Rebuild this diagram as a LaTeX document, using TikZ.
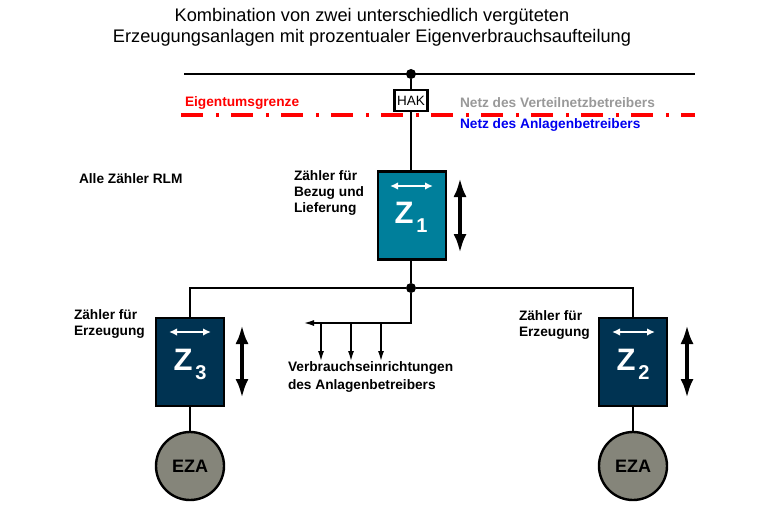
\documentclass[tikz,border=0pt]{standalone}
\usepackage{fontspec}
\setmainfont{Liberation Sans}
\usepackage{xcolor}
\usetikzlibrary{arrows.meta}
\definecolor{tl}{HTML}{007F9B}
\definecolor{nv}{HTML}{003352}
\definecolor{gr}{HTML}{85857A}
\definecolor{rd}{HTML}{FF0000}
\definecolor{bu}{HTML}{0000F0}
\definecolor{gy}{HTML}{999999}
\begin{document}
\begin{tikzpicture}[x=1pt,y=-1pt,
    every node/.style={inner sep=0pt,outer sep=0pt},
    wire/.style={line width=2pt},
    bus/.style={line width=2.6pt},
    meter/.style={draw,line width=2.4pt,minimum width=68pt,minimum height=88pt},
    eza/.style={draw,circle,line width=2.4pt,fill=gr,minimum size=68pt,font=\bfseries\fontsize{18}{20}\selectfont},
    dot/.style={circle,fill=black,minimum size=10pt},
    txt/.style={anchor=west,align=left,font=\bfseries\fontsize{13.7}{16}\selectfont},
    zsym/.style={text=white,font=\bfseries\fontsize{31}{31}\selectfont},
    zsub/.style={text=white,font=\bfseries\fontsize{20}{20}\selectfont},
    flow/.style={line width=4pt,{Latex[length=19pt,width=13pt]}-{Latex[length=19pt,width=13pt]}},
    dir/.style={white,line width=2pt,{Latex[length=8pt,width=7.5pt]}-{Latex[length=8pt,width=7.5pt]}},
    load/.style={wire,-{Latex[length=11pt,width=6pt]}}]
  \useasboundingbox (0,0) rectangle (768,511);
  % title
  \node[align=center,font=\fontsize{18.2}{21}\selectfont] (title) at (372,27) {Kombination von zwei unterschiedlich vergüteten\\Erzeugungsanlagen mit prozentualer Eigenverbrauchsaufteilung};
  % grid
  \coordinate (topl) at (184,74);
  \coordinate (topr) at (695,74);
  \coordinate (grl) at (181,115);
  \coordinate (grr) at (695,115);
  \draw[rd,line width=3.2pt,dash pattern=on 22pt off 13pt on 3pt off 12pt] (grl) -- (grr);
  \draw[bus] (topl) -- (topr);
  \node[dot] (top) at (411,74) {};
  \node[draw,fill=white,line width=2.4pt,minimum width=33pt,minimum height=21pt,font=\fontsize{13.5}{14}\selectfont] (hak) at (411,100.5) {HAK};
  \node[txt,rd] (eig) at (185,103) {Eigentumsgrenze};
  \node[txt,gy] (vnb) at (460,103) {Netz des Verteilnetzbetreibers};
  \node[txt,bu] (anb) at (460,125) {Netz des Anlagenbetreibers};
  \node[txt] (rlm) at (79,178.5) {Alle Zähler RLM};
  % meters
  \node[meter,fill=tl] (z1) at (412,215.5) {};
  \node[meter,fill=nv] (z3) at (190,362) {};
  \node[meter,fill=nv] (z2) at (633,362) {};
  \node[zsym] (z1l) at (404,213) {Z};
  \node[zsub] (z1s) at (422,226) {1};
  \node[zsym] (z3l) at (183,360) {Z};
  \node[zsub] (z3s) at (201,373) {3};
  \node[zsym] (z2l) at (626,360) {Z};
  \node[zsub] (z2s) at (644,373) {2};
  \node[eza] (eza3) at (190,466) {EZA};
  \node[eza] (eza2) at (633,466) {EZA};
  \node[dot] (jn) at (411,288) {};
  % connections
  \draw[bus] (top) -- (hak);
  \draw[bus] (hak) -- (hak |- z1.north);
  \draw[bus] (hak |- z1.south) -- (jn);
  \draw[wire] (jn) -| (z3);
  \draw[wire] (jn) -| (z2);
  \draw[wire] (z3) -- (eza3);
  \draw[wire] (z2) -- (eza2);
  % loads
  \coordinate (br) at (411,323);
  \coordinate (bl) at (303,323);
  \draw[load] (jn) -- (br) -- (bl);
  \foreach \x in {321,351,381}
    \draw[load] (\x,323) -- (\x,362);
  % arrows
  \draw[flow] (460,178) -- (460,253);
  \draw[flow] (242,325) -- (242,398);
  \draw[flow] (687,325) -- (687,398);
  \draw[dir] (390,186) -- (433,186);
  \draw[dir] (169,332) -- (211,332);
  \draw[dir] (612,332) -- (655,332);
  % labels
  \node[txt] (z1t) at (294,192.5) {Zähler für\\Bezug und\\Lieferung};
  \node[txt] (z3t) at (74,324) {Zähler für\\Erzeugung};
  \node[txt] (z2t) at (519,325) {Zähler für\\Erzeugung};
  \node[txt,font=\bfseries\fontsize{13.7}{17.5}\selectfont] (vbt) at (288,377) {Verbrauchseinrichtungen\\des Anlagenbetreibers};
\end{tikzpicture}
\end{document}
